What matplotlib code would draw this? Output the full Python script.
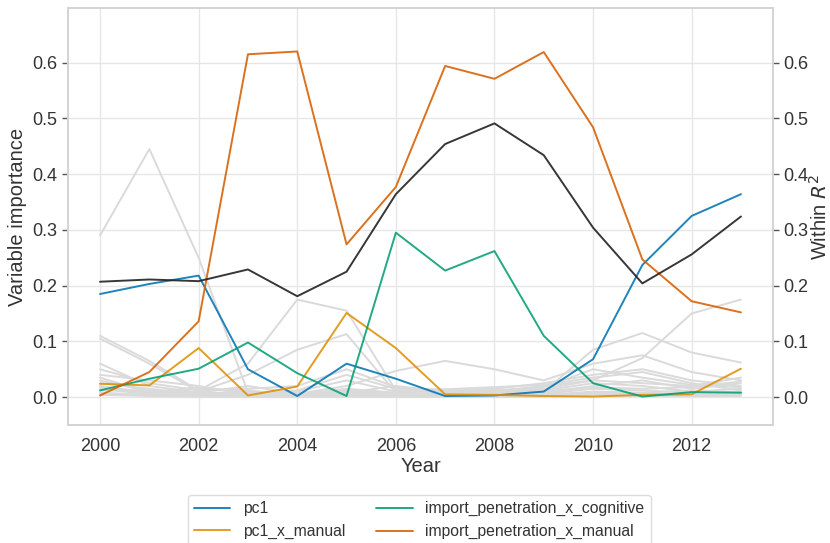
import matplotlib
matplotlib.use("Agg")
import matplotlib.pyplot as plt
import seaborn as sns

sns.set_theme(style="whitegrid")
plt.rcParams['font.family'] = ['Arial', 'Liberation Sans', 'DejaVu Sans']

years = list(range(2000, 2014))

pc1 = [0.185, 0.203, 0.218, 0.050, 0.002, 0.060, 0.033, 0.002, 0.003, 0.010, 0.068, 0.237, 0.325, 0.364]
pc1_x_manual = [0.024, 0.021, 0.088, 0.003, 0.019, 0.151, 0.088, 0.005, 0.004, 0.002, 0.001, 0.004, 0.005, 0.051]
import_penetration_x_cognitive = [0.012, 0.033, 0.051, 0.098, 0.043, 0.002, 0.295, 0.227, 0.262, 0.110, 0.025, 0.001, 0.009, 0.008]
import_penetration_x_manual = [0.003, 0.045, 0.136, 0.615, 0.620, 0.274, 0.377, 0.594, 0.571, 0.619, 0.484, 0.247, 0.172, 0.152]
within_r2 = [0.207, 0.211, 0.208, 0.229, 0.181, 0.225, 0.364, 0.454, 0.491, 0.434, 0.304, 0.204, 0.256, 0.324]

# remaining regressors, shown in the background
other_vars = [
    [0.290, 0.445, 0.250, 0.008, 0.004, 0.005, 0.006, 0.004, 0.005, 0.004, 0.006, 0.005, 0.004, 0.005],
    [0.110, 0.065, 0.012, 0.060, 0.175, 0.155, 0.012, 0.010, 0.012, 0.015, 0.030, 0.070, 0.150, 0.175],
    [0.105, 0.060, 0.010, 0.040, 0.085, 0.113, 0.008, 0.006, 0.008, 0.010, 0.085, 0.115, 0.080, 0.062],
    [0.060, 0.020, 0.008, 0.020, 0.006, 0.020, 0.047, 0.065, 0.050, 0.030, 0.060, 0.075, 0.045, 0.030],
    [0.040, 0.030, 0.020, 0.005, 0.010, 0.030, 0.010, 0.012, 0.015, 0.025, 0.040, 0.050, 0.030, 0.020],
    [0.030, 0.010, 0.015, 0.010, 0.006, 0.008, 0.020, 0.010, 0.010, 0.020, 0.030, 0.025, 0.020, 0.035],
    [0.025, 0.015, 0.005, 0.012, 0.004, 0.015, 0.008, 0.004, 0.006, 0.008, 0.020, 0.030, 0.015, 0.025],
    [0.020, 0.008, 0.010, 0.004, 0.008, 0.010, 0.005, 0.008, 0.010, 0.012, 0.025, 0.020, 0.010, 0.015],
    [0.015, 0.005, 0.004, 0.003, 0.003, 0.006, 0.004, 0.003, 0.004, 0.006, 0.015, 0.012, 0.008, 0.010],
    [0.012, 0.012, 0.006, 0.006, 0.002, 0.004, 0.003, 0.006, 0.003, 0.004, 0.010, 0.008, 0.012, 0.008],
    [0.008, 0.004, 0.003, 0.002, 0.002, 0.003, 0.002, 0.002, 0.002, 0.003, 0.008, 0.006, 0.005, 0.006],
    [0.006, 0.003, 0.002, 0.001, 0.001, 0.002, 0.001, 0.001, 0.001, 0.002, 0.005, 0.004, 0.003, 0.004],
    [0.035, 0.008, 0.018, 0.008, 0.012, 0.040, 0.015, 0.014, 0.018, 0.022, 0.035, 0.045, 0.025, 0.012],
    [0.050, 0.025, 0.012, 0.015, 0.020, 0.050, 0.018, 0.008, 0.012, 0.018, 0.050, 0.035, 0.022, 0.018],
    [0.004, 0.002, 0.001, 0.001, 0.001, 0.001, 0.001, 0.001, 0.001, 0.001, 0.003, 0.002, 0.002, 0.002],
    [0.018, 0.006, 0.008, 0.003, 0.005, 0.012, 0.006, 0.005, 0.006, 0.010, 0.018, 0.015, 0.018, 0.028],
]

palette = sns.color_palette("colorblind")
text_color = "#333333"

fig = plt.figure(figsize=(8.3, 5.43), dpi=100)
ax = fig.add_axes([68 / 830, 1 - 425 / 543, (773 - 68) / 830, (425 - 8) / 543])

for series in other_vars:
    ax.plot(years, series, color="#dadada", lw=1.4, zorder=1)

line_kw = dict(lw=1.4, alpha=0.88, zorder=3)
ax.plot(years, pc1, color=palette[0], label="pc1", **line_kw)
ax.plot(years, pc1_x_manual, color=palette[1], label="pc1_x_manual", **line_kw)
ax.plot(years, import_penetration_x_cognitive, color=palette[2],
        label="import_penetration_x_cognitive", **line_kw)
ax.plot(years, import_penetration_x_manual, color=palette[3],
        label="import_penetration_x_manual", **line_kw)

ylim = (-0.05, 0.698)
ax.set_ylim(*ylim)
ax.set_xlim(1999.35, 2013.65)
ax.set_xticks(range(2000, 2014, 2))
ax.grid(color="#e6e6e6", lw=1.0)
ax.set_ylabel("Variable importance", fontsize=14.5, color=text_color)
ax.set_xlabel("Year", fontsize=14.5, color=text_color, labelpad=1)
ax.tick_params(axis="both", labelsize=13, colors=text_color)
ax.tick_params(axis="y", left=True, length=4, width=1, color="#555555")

ax2 = ax.twinx()
ax2.plot(years, within_r2, color="#262626", lw=1.4, alpha=0.92, zorder=4)
ax2.set_ylim(*ylim)
ax2.grid(False)
ax2.set_ylabel("Within $R^2$", fontsize=14.5, color=text_color)
ax2.yaxis.set_label_coords(1.0 + (809 - 773) / 705, 0.5)
ax2.tick_params(axis="y", right=True, length=4, width=1, color="#555555",
                labelsize=13, labelcolor=text_color)

for a in (ax, ax2):
    for sp in a.spines.values():
        sp.set_color("#d4d4d4")
        sp.set_linewidth(1.25)

fig.legend(loc="upper center", bbox_to_anchor=(0.505, 1 - 487 / 543), ncol=2,
           fontsize=11.3, frameon=True, edgecolor="#d4d4d4", columnspacing=2.0,
           handlelength=2.3, labelcolor=text_color)

fig.savefig("out.png", dpi=100)
